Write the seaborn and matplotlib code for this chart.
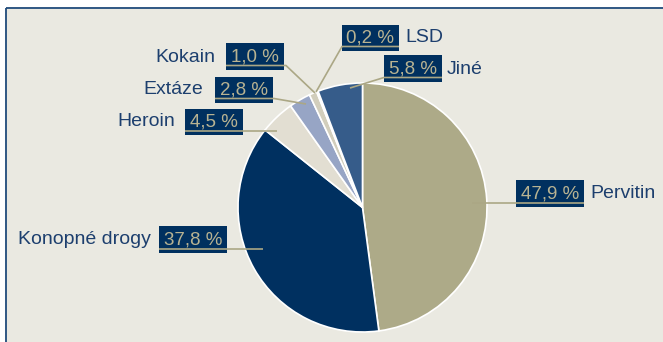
import matplotlib
matplotlib.use("Agg")
import matplotlib.pyplot as plt
import seaborn as sns
from matplotlib.patches import Rectangle

# ---- data ----
categories = ["Pervitin", "Konopné drogy", "Heroin", "Extáze", "Kokain", "LSD", "Jiné"]
values = [47.9, 37.8, 4.5, 2.8, 1.0, 0.2, 5.8]
pct_labels = ["47,9 %", "37,8 %", "4,5 %", "2,8 %", "1,0 %", "0,2 %", "5,8 %"]

# ---- style ----
sns.set_style("white")
plt.rcParams["font.family"] = ["Liberation Sans", "DejaVu Sans"]

slice_colors = sns.color_palette(["#ADAA88", "#003060", "#E2DED2", "#97A5C5",
                                  "#D2CEBC", "#D2CEBC", "#365C8A"])
BG = "#EAE9E1"
NAVY_TXT = "#1D3F6E"
BOX = "#00305F"
TAN_TXT = "#B8B392"
TAN_LINE = "#ABA785"

W, H = 663, 342
fig = plt.figure(figsize=(W / 100, H / 100), dpi=100)
fig.patch.set_facecolor("white")
ax = fig.add_axes([0, 0, 1, 1])

# background panel + border
ax.add_patch(Rectangle((7, 8.5), W, H, facecolor=BG, edgecolor="none", zorder=0))
ax.plot([6.3, W], [8.3, 8.3], color="#1F4A7A", lw=1.3, zorder=1, solid_capstyle="butt")
ax.plot([6.3, 6.3], [8.3, H], color="#1F4A7A", lw=1.3, zorder=1, solid_capstyle="butt")

# pie (y axis inverted -> startangle -90 and counterclock=True give clockwise from top)
ax.pie(values, colors=slice_colors, startangle=-90, counterclock=True,
       center=(362.5, 207.5), radius=124.5,
       wedgeprops=dict(edgecolor="white", linewidth=1.2), frame=False)

ax.set_xlim(0, W)
ax.set_ylim(H, 0)
ax.set_aspect("equal")
ax.axis("off")

# label layout: box (x0, y0, x1, y1), name anchor x, side, leader path
layout = {
    "Pervitin":      dict(box=(516, 180, 584, 207), name_x=590, side="right",
                          path=[(584, None), (516, None), (472, None)]),
    "Konopné drogy": dict(box=(159, 226, 227, 253), name_x=151, side="left",
                          path=[(159, None), (263, None)]),
    "Heroin":        dict(box=(185, 109, 243, 135), name_x=175, side="left",
                          path=[(185, None), (277, None)]),
    "Extáze":        dict(box=(215, 77, 273, 103), name_x=203, side="left",
                          path=[(215, None), (274, None), (306, 104)]),
    "Kokain":        dict(box=(226, 43, 284, 70), name_x=215, side="left",
                          path=[(226, None), (286, None), (315, 93)]),
    "LSD":           dict(box=(342, 24.5, 399, 51), name_x=405, side="right",
                          path=[(399, None), (342, None), (316, 92)]),
    "Jiné":          dict(box=(384, 55, 442, 82), name_x=447, side="right",
                          path=[(442, None), (384, None), (350, 88)]),
}

for cat, pct in zip(categories, pct_labels):
    L = layout[cat]
    x0, y0, x1, y1 = L["box"]
    base = y1 - 8.5
    uy = y1 - 4.5
    ax.add_patch(Rectangle((x0, y0), x1 - x0, y1 - y0, facecolor=BOX,
                           edgecolor="none", zorder=3))
    ax.text((x0 + x1) / 2, base, pct, color=TAN_TXT, fontsize=13.5,
            ha="center", va="baseline", zorder=4)
    xs = [p[0] for p in L["path"]]
    ys = [uy if p[1] is None else p[1] for p in L["path"]]
    ax.plot(xs, ys, color=TAN_LINE, lw=1.2, zorder=5, solid_capstyle="butt")
    if L["side"] == "left":
        ax.text(L["name_x"], base, cat, color=NAVY_TXT, fontsize=14,
                ha="right", va="baseline", zorder=4)
    else:
        ax.text(L["name_x"], base, cat, color=NAVY_TXT, fontsize=14,
                ha="left", va="baseline", zorder=4)

fig.savefig("out.png", dpi=100, facecolor=fig.get_facecolor())
